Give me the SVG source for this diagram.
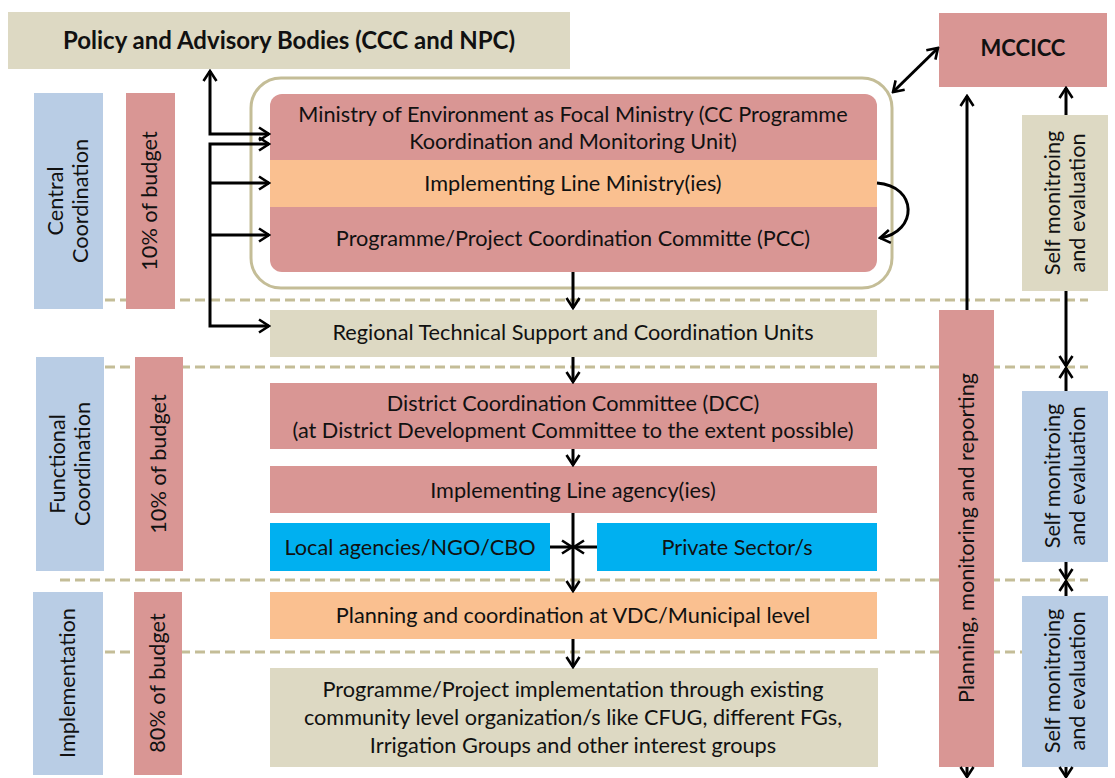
<svg xmlns="http://www.w3.org/2000/svg" width="1115" height="778" viewBox="0 0 1115 778">
<style>
text{font-family:Lato,"Open Sans","Liberation Sans",sans-serif;font-size:21.7px;fill:#111;text-anchor:middle}
.b{font-weight:bold;font-size:24px}
.m{font-weight:bold;font-size:22px}
.pink{fill:#D99694}
.tan{fill:#DDD9C3}
.blue{fill:#B9CDE5}
.orange{fill:#FAC090}
.cyan{fill:#00B0F0}
.dash{stroke:#C4BD97;stroke-width:3;stroke-dasharray:10 5;fill:none}
.c{stroke:#000;stroke-width:3;fill:none}
.ar{marker-end:url(#ah)}
.ar2{marker-start:url(#ah);marker-end:url(#ah)}
</style>
<defs>
<marker id="ah" viewBox="0 0 14 16" refX="12" refY="8" markerWidth="14" markerHeight="16" markerUnits="userSpaceOnUse" orient="auto-start-reverse">
<path d="M2,1.5 L12,8 L2,14.5" fill="none" stroke="#000" stroke-width="2.6"/>
</marker>
</defs>
<rect width="1115" height="778" fill="#fff"/>
<g id="dividers">
<line class="dash" x1="60" y1="300" x2="1088" y2="300"/>
<line class="dash" x1="60" y1="367" x2="1088" y2="367"/>
<line class="dash" x1="60" y1="580" x2="1088" y2="580"/>
<line class="dash" x1="60" y1="652" x2="1088" y2="652"/>
</g>
<g id="policy"><rect class="tan" x="8" y="12" width="562" height="57"/><text class="b" x="289" y="49">Policy and Advisory Bodies (CCC and NPC)</text></g>
<g id="mccicc"><rect class="pink" x="939" y="13" width="168" height="74"/><text class="m" x="1023" y="56">MCCICC</text></g>
<g id="central"><rect class="blue" x="34" y="93" width="69" height="216"/><text transform="translate(68,201) rotate(-90)"><tspan x="0" y="-5">Central</tspan><tspan x="0" y="20">Coordination</tspan></text></g>
<g id="budget1"><rect class="pink" x="126" y="93" width="49" height="216"/><text transform="translate(150,201) rotate(-90)" y="7">10% of budget</text></g>
<g id="functional"><rect class="blue" x="36" y="357" width="68" height="214"/><text transform="translate(70,464) rotate(-90)"><tspan x="0" y="-5">Functional</tspan><tspan x="0" y="20">Coordination</tspan></text></g>
<g id="budget2"><rect class="pink" x="135" y="357" width="48" height="214"/><text transform="translate(159,464) rotate(-90)" y="7">10% of budget</text></g>
<g id="implementation"><rect class="blue" x="33" y="592" width="70" height="183"/><text transform="translate(68,683) rotate(-90)" y="7">Implementation</text></g>
<g id="budget3"><rect class="pink" x="134" y="592" width="48" height="183"/><text transform="translate(158,683) rotate(-90)" y="7">80% of budget</text></g>
<g id="frame"><rect x="251" y="78" width="641" height="210" rx="30" fill="none" stroke="#C4BD97" stroke-width="3"/></g>
<g id="ministry"><path class="pink" d="M282,94 H865 A12,12 0 0 1 877,106 V160 H270 V106 A12,12 0 0 1 282,94 Z"/><text x="573" y="122">Ministry of Environment as Focal Ministry (CC Programme</text><text x="573" y="149">Koordination and Monitoring Unit)</text></g>
<g id="line-ministry"><rect class="orange" x="270" y="160" width="607" height="47"/><text x="573" y="191">Implementing Line Ministry(ies)</text></g>
<g id="pcc"><path class="pink" d="M270,207 H877 V260 A12,12 0 0 1 865,272 H282 A12,12 0 0 1 270,260 Z"/><text x="573" y="246">Programme/Project Coordination Committe (PCC)</text></g>
<g id="regional"><rect class="tan" x="270" y="310" width="607" height="47"/><text x="573" y="340">Regional Technical Support and Coordination Units</text></g>
<g id="dcc"><rect class="pink" x="270" y="383" width="607" height="66"/><text x="573" y="411">District Coordination Committee (DCC)</text><text x="573" y="438">(at District Development Committee to the extent possible)</text></g>
<g id="line-agency"><rect class="pink" x="270" y="466" width="607" height="47"/><text x="573" y="498">Implementing Line agency(ies)</text></g>
<g id="local"><rect class="cyan" x="270" y="523" width="280" height="48"/><text x="410" y="555">Local agencies/NGO/CBO</text></g>
<g id="private"><rect class="cyan" x="597" y="523" width="280" height="48"/><text x="737" y="555">Private Sector/s</text></g>
<g id="vdc"><rect class="orange" x="270" y="592" width="607" height="47"/><text x="573" y="623">Planning and coordination at VDC/Municipal level</text></g>
<g id="community"><rect class="tan" x="270" y="668" width="608" height="99"/><text x="573" y="697">Programme/Project implementation through existing</text><text x="573" y="725">community level organization/s like CFUG, different FGs,</text><text x="573" y="753">Irrigation Groups and other interest groups</text></g>
<g id="planning"><rect class="pink" x="939" y="310" width="55" height="457"/><text transform="translate(967,538) rotate(-90)" y="7">Planning, monitoring and reporting</text></g>
<g id="self1"><rect class="tan" x="1022" y="115" width="86" height="176"/><text transform="translate(1065,203) rotate(-90)"><tspan x="0" y="-5">Self monitroing</tspan><tspan x="0" y="20">and evaluation</tspan></text></g>
<g id="self2"><rect class="blue" x="1022" y="391" width="86" height="171"/><text transform="translate(1065,476) rotate(-90)"><tspan x="0" y="-5">Self monitroing</tspan><tspan x="0" y="20">and evaluation</tspan></text></g>
<g id="self3"><rect class="blue" x="1022" y="596" width="86" height="171"/><text transform="translate(1065,681) rotate(-90)"><tspan x="0" y="-5">Self monitroing</tspan><tspan x="0" y="20">and evaluation</tspan></text></g>
<g id="connectors">
<path class="c ar2" d="M210,71 V134 H269"/>
<path class="c ar2" d="M269,144 H210 V326 H269"/>
<path class="c ar" d="M210,183 H269"/>
<path class="c ar" d="M210,235 H269"/>
<path class="c ar2" d="M893,92 L938,48"/>
<path class="c ar" d="M877,183 C918,186 918,232 880,238"/>
<path class="c ar" d="M573,272 V308"/>
<path class="c ar" d="M573,357 V382"/>
<path class="c ar" d="M573,449 V465"/>
<path class="c ar" d="M573,513 V591"/>
<path class="c ar" d="M573,639 V667"/>
<path class="c ar" d="M550,547 H572"/>
<path class="c ar" d="M597,547 H574"/>
<path class="c ar" d="M967,310 V96"/>
<path class="c ar" d="M967,767 V777"/>
<path class="c ar" d="M1066,115 V88"/>
<path class="c ar" d="M1066,291 V366"/>
<path class="c ar" d="M1066,391 V368"/>
<path class="c ar" d="M1066,562 V579"/>
<path class="c ar" d="M1066,596 V581"/>
<path class="c ar" d="M1066,767 V777"/>
</g>
</svg>
